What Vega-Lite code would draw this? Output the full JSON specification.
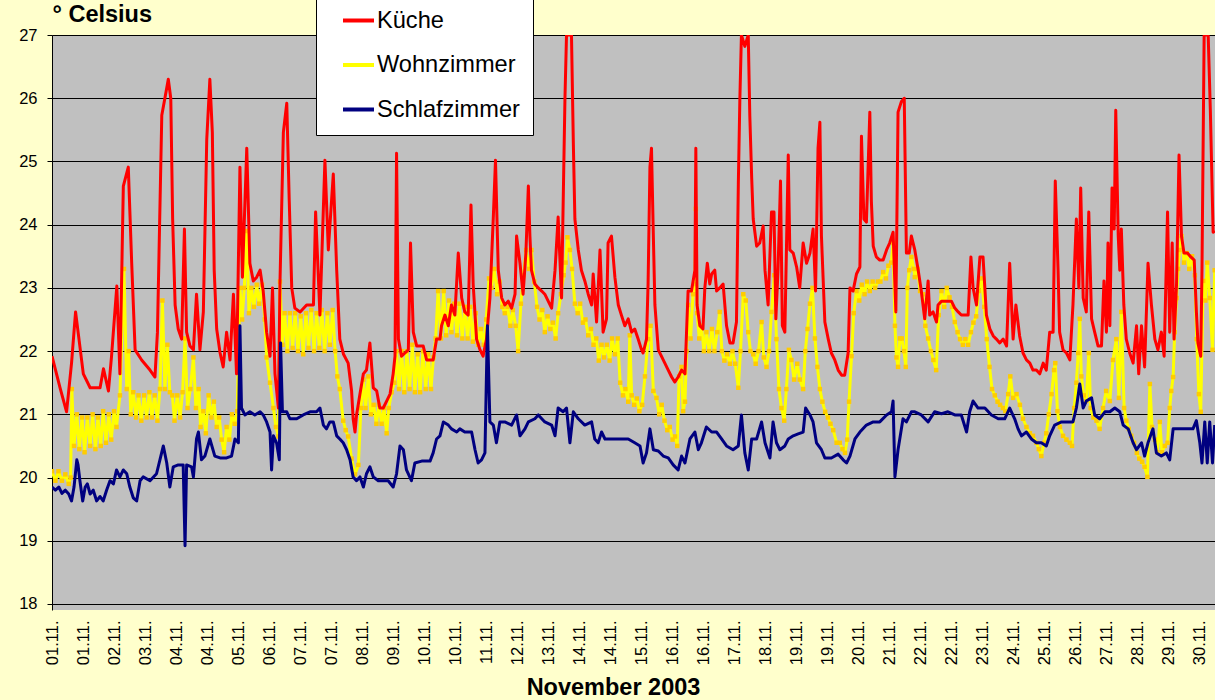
{
"$schema": "https://vega.github.io/schema/vega-lite/v6.json",
"width": 1163,
"height": 575,
"autosize": "none",
"padding": {"left": 52, "top": 35, "right": 0, "bottom": 90},
"background": "#FFFFCC",
"config": {"view": {"fill": "#C0C0C0", "stroke": null}, "font": "Liberation Sans"},
"datasets": {
"kueche": [
{"pos":0,"temp":21.92},{"pos":0.26,"temp":21.42},{"pos":0.47,"temp":21.04},{"pos":0.63,"temp":21.81},{"pos":0.76,"temp":22.62},{"pos":0.87,"temp":22.19},{"pos":1.01,"temp":21.64},{"pos":1.23,"temp":21.42},{"pos":1.55,"temp":21.42},{"pos":1.66,"temp":21.72},{"pos":1.82,"temp":21.37},{"pos":1.92,"temp":21.92},{"pos":2.09,"temp":23.03},{"pos":2.19,"temp":21.64},{"pos":2.30,"temp":24.61},{"pos":2.46,"temp":24.91},{"pos":2.57,"temp":23.39},{"pos":2.68,"temp":22.02},{"pos":2.89,"temp":21.86},{"pos":3.16,"temp":21.70},{"pos":3.32,"temp":21.59},{"pos":3.40,"temp":22.30},{"pos":3.54,"temp":25.73},{"pos":3.64,"temp":26.0},{"pos":3.75,"temp":26.30},{"pos":3.83,"temp":26.0},{"pos":3.89,"temp":24.09},{"pos":3.97,"temp":22.73},{"pos":4.07,"temp":22.35},{"pos":4.18,"temp":22.19},{"pos":4.27,"temp":23.93},{"pos":4.34,"temp":22.30},{"pos":4.45,"temp":22.08},{"pos":4.56,"temp":22.02},{"pos":4.66,"temp":22.90},{"pos":4.77,"temp":22.02},{"pos":4.88,"temp":22.62},{"pos":4.99,"temp":25.35},{"pos":5.09,"temp":26.30},{"pos":5.17,"temp":25.46},{"pos":5.23,"temp":23.28},{"pos":5.31,"temp":22.35},{"pos":5.42,"temp":21.97},{"pos":5.52,"temp":21.75},{"pos":5.63,"temp":22.30},{"pos":5.74,"temp":21.86},{"pos":5.85,"temp":22.90},{"pos":5.95,"temp":21.64},{"pos":6.06,"temp":24.91},{"pos":6.14,"temp":23.17},{"pos":6.28,"temp":25.21},{"pos":6.38,"temp":23.39},{"pos":6.49,"temp":23.11},{"pos":6.60,"temp":23.17},{"pos":6.71,"temp":23.28},{"pos":6.81,"temp":22.95},{"pos":6.92,"temp":22.30},{"pos":7.03,"temp":21.92},{"pos":7.11,"temp":23.0},{"pos":7.19,"temp":21.64},{"pos":7.30,"temp":21.10},{"pos":7.35,"temp":23.06},{"pos":7.46,"temp":25.46},{"pos":7.57,"temp":25.92},{"pos":7.65,"temp":24.37},{"pos":7.73,"temp":23.0},{"pos":7.83,"temp":22.68},{"pos":8.00,"temp":22.62},{"pos":8.21,"temp":22.73},{"pos":8.43,"temp":22.73},{"pos":8.50,"temp":24.20},{"pos":8.64,"temp":22.57},{"pos":8.80,"temp":25.02},{"pos":8.91,"temp":23.60},{"pos":9.07,"temp":24.80},{"pos":9.18,"temp":23.28},{"pos":9.28,"temp":22.19},{"pos":9.40,"temp":21.95},{"pos":9.55,"temp":21.81},{"pos":9.66,"temp":21.37},{"pos":9.71,"temp":20.93},{"pos":9.77,"temp":20.72},{"pos":9.82,"temp":20.99},{"pos":9.93,"temp":21.32},{"pos":10.04,"temp":21.64},{"pos":10.14,"temp":21.70},{"pos":10.25,"temp":22.13},{"pos":10.36,"temp":21.42},{"pos":10.47,"temp":21.37},{"pos":10.57,"temp":21.10},{"pos":10.68,"temp":21.10},{"pos":10.79,"temp":21.21},{"pos":10.90,"temp":21.32},{"pos":11.00,"temp":21.64},{"pos":11.06,"temp":21.92},{"pos":11.11,"temp":25.13},{"pos":11.17,"temp":22.19},{"pos":11.27,"temp":21.92},{"pos":11.38,"temp":21.97},{"pos":11.49,"temp":22.02},{"pos":11.56,"temp":23.71},{"pos":11.65,"temp":22.30},{"pos":11.76,"temp":22.08},{"pos":11.86,"temp":22.08},{"pos":11.97,"temp":22.08},{"pos":12.08,"temp":21.86},{"pos":12.19,"temp":21.86},{"pos":12.29,"temp":21.86},{"pos":12.40,"temp":22.19},{"pos":12.51,"temp":22.19},{"pos":12.56,"temp":22.40},{"pos":12.67,"temp":22.57},{"pos":12.78,"temp":22.40},{"pos":12.88,"temp":22.73},{"pos":12.99,"temp":22.57},{"pos":13.10,"temp":23.55},{"pos":13.21,"temp":22.84},{"pos":13.31,"temp":22.62},{"pos":13.42,"temp":22.57},{"pos":13.51,"temp":24.31},{"pos":13.58,"temp":23.06},{"pos":13.69,"temp":22.19},{"pos":13.80,"temp":22.02},{"pos":13.90,"temp":21.92},{"pos":14.01,"temp":22.19},{"pos":14.12,"temp":22.84},{"pos":14.23,"temp":24.12},{"pos":14.30,"temp":25.02},{"pos":14.39,"temp":23.28},{"pos":14.50,"temp":22.84},{"pos":14.60,"temp":22.73},{"pos":14.71,"temp":22.79},{"pos":14.82,"temp":22.68},{"pos":14.93,"temp":22.90},{"pos":14.98,"temp":23.82},{"pos":15.09,"temp":23.39},{"pos":15.19,"temp":22.90},{"pos":15.28,"temp":23.55},{"pos":15.36,"temp":24.61},{"pos":15.41,"temp":23.82},{"pos":15.46,"temp":23.28},{"pos":15.57,"temp":23.06},{"pos":15.68,"temp":23.00},{"pos":15.79,"temp":22.95},{"pos":15.89,"temp":22.90},{"pos":16.00,"temp":22.79},{"pos":16.11,"temp":22.68},{"pos":16.22,"temp":23.28},{"pos":16.32,"temp":24.12},{"pos":16.43,"temp":22.84},{"pos":16.54,"temp":26.0},{"pos":16.59,"temp":27.0},{"pos":16.67,"temp":27.0},{"pos":16.75,"temp":27.0},{"pos":16.81,"temp":25.29},{"pos":16.86,"temp":24.09},{"pos":16.97,"temp":23.60},{"pos":17.07,"temp":23.28},{"pos":17.18,"temp":23.11},{"pos":17.29,"temp":22.90},{"pos":17.40,"temp":22.73},{"pos":17.45,"temp":23.22},{"pos":17.56,"temp":22.46},{"pos":17.67,"temp":23.60},{"pos":17.77,"temp":22.30},{"pos":17.88,"temp":22.51},{"pos":17.93,"temp":23.71},{"pos":18.04,"temp":23.82},{"pos":18.15,"temp":23.17},{"pos":18.26,"temp":22.73},{"pos":18.36,"temp":22.57},{"pos":18.47,"temp":22.40},{"pos":18.58,"temp":22.51},{"pos":18.69,"temp":22.30},{"pos":18.79,"temp":22.35},{"pos":18.90,"temp":22.19},{"pos":19.01,"temp":22.02},{"pos":19.06,"temp":21.97},{"pos":19.17,"temp":22.19},{"pos":19.22,"temp":23.06},{"pos":19.28,"temp":24.91},{"pos":19.33,"temp":25.21},{"pos":19.39,"temp":23.82},{"pos":19.44,"temp":22.73},{"pos":19.55,"temp":22.02},{"pos":19.65,"temp":21.92},{"pos":19.76,"temp":21.81},{"pos":19.87,"temp":21.70},{"pos":19.98,"temp":21.59},{"pos":20.08,"temp":21.51},{"pos":20.19,"temp":21.59},{"pos":20.30,"temp":21.70},{"pos":20.41,"temp":21.64},{"pos":20.51,"temp":22.95},{"pos":20.62,"temp":22.95},{"pos":20.73,"temp":23.28},{"pos":20.76,"temp":25.21},{"pos":20.80,"temp":22.73},{"pos":20.89,"temp":22.40},{"pos":20.99,"temp":22.35},{"pos":21.05,"temp":23.00},{"pos":21.13,"temp":23.39},{"pos":21.21,"temp":23.06},{"pos":21.27,"temp":23.22},{"pos":21.37,"temp":23.28},{"pos":21.43,"temp":22.95},{"pos":21.53,"temp":23.00},{"pos":21.64,"temp":23.06},{"pos":21.75,"temp":22.40},{"pos":21.86,"temp":22.13},{"pos":21.96,"temp":22.13},{"pos":22.07,"temp":22.46},{"pos":22.13,"temp":24.64},{"pos":22.18,"temp":26.0},{"pos":22.23,"temp":27.0},{"pos":22.34,"temp":26.82},{"pos":22.45,"temp":27.0},{"pos":22.50,"temp":25.73},{"pos":22.56,"temp":24.75},{"pos":22.61,"temp":24.09},{"pos":22.72,"temp":23.66},{"pos":22.82,"temp":23.71},{"pos":22.93,"temp":23.98},{"pos":22.99,"temp":23.28},{"pos":23.09,"temp":22.73},{"pos":23.20,"temp":24.20},{"pos":23.28,"temp":24.20},{"pos":23.34,"temp":22.51},{"pos":23.41,"temp":23.28},{"pos":23.49,"temp":24.69},{"pos":23.55,"temp":22.40},{"pos":23.63,"temp":22.30},{"pos":23.74,"temp":25.10},{"pos":23.79,"temp":23.60},{"pos":23.90,"temp":23.55},{"pos":24.01,"temp":23.33},{"pos":24.11,"temp":23.00},{"pos":24.22,"temp":23.71},{"pos":24.33,"temp":23.39},{"pos":24.44,"temp":23.55},{"pos":24.54,"temp":23.93},{"pos":24.62,"temp":22.95},{"pos":24.70,"temp":25.21},{"pos":24.76,"temp":25.62},{"pos":24.81,"temp":23.82},{"pos":24.92,"temp":22.46},{"pos":25.03,"temp":22.19},{"pos":25.13,"temp":21.97},{"pos":25.24,"temp":21.86},{"pos":25.35,"temp":21.70},{"pos":25.46,"temp":21.62},{"pos":25.56,"temp":21.62},{"pos":25.67,"temp":21.97},{"pos":25.73,"temp":23.00},{"pos":25.83,"temp":22.95},{"pos":25.94,"temp":23.22},{"pos":26.05,"temp":23.33},{"pos":26.10,"temp":25.40},{"pos":26.18,"temp":24.09},{"pos":26.26,"temp":24.04},{"pos":26.37,"temp":25.78},{"pos":26.42,"temp":24.37},{"pos":26.48,"temp":23.66},{"pos":26.58,"temp":23.49},{"pos":26.69,"temp":23.44},{"pos":26.80,"temp":23.44},{"pos":26.91,"temp":23.60},{"pos":27.01,"temp":23.71},{"pos":27.12,"temp":23.88},{"pos":27.21,"temp":22.62},{"pos":27.28,"temp":25.78},{"pos":27.39,"temp":25.95},{"pos":27.48,"temp":26.0},{"pos":27.55,"temp":23.55},{"pos":27.64,"temp":23.55},{"pos":27.71,"temp":23.82},{"pos":27.82,"temp":23.60},{"pos":27.93,"temp":23.28},{"pos":28.03,"temp":22.95},{"pos":28.14,"temp":22.51},{"pos":28.25,"temp":23.11},{"pos":28.30,"temp":22.57},{"pos":28.41,"temp":22.62},{"pos":28.52,"temp":22.46},{"pos":28.57,"temp":22.73},{"pos":28.68,"temp":22.79},{"pos":28.79,"temp":22.79},{"pos":28.89,"temp":22.79},{"pos":29.00,"temp":22.79},{"pos":29.11,"temp":22.68},{"pos":29.22,"temp":22.62},{"pos":29.32,"temp":22.57},{"pos":29.43,"temp":22.57},{"pos":29.54,"temp":22.57},{"pos":29.63,"temp":23.49},{"pos":29.70,"temp":23.00},{"pos":29.81,"temp":22.73},{"pos":29.92,"temp":23.49},{"pos":30.02,"temp":23.49},{"pos":30.13,"temp":22.57},{"pos":30.24,"temp":22.35},{"pos":30.35,"temp":22.24},{"pos":30.45,"temp":22.19},{"pos":30.56,"temp":22.13},{"pos":30.67,"temp":22.19},{"pos":30.78,"temp":22.08},{"pos":30.88,"temp":23.39},{"pos":30.99,"temp":22.19},{"pos":31.08,"temp":22.73},{"pos":31.20,"temp":22.24},{"pos":31.31,"temp":21.97},{"pos":31.42,"temp":21.86},{"pos":31.53,"temp":21.81},{"pos":31.63,"temp":21.70},{"pos":31.74,"temp":21.70},{"pos":31.85,"temp":21.64},{"pos":31.96,"temp":21.81},{"pos":32.06,"temp":21.70},{"pos":32.17,"temp":22.30},{"pos":32.28,"temp":22.30},{"pos":32.35,"temp":24.69},{"pos":32.44,"temp":23.28},{"pos":32.49,"temp":22.30},{"pos":32.60,"temp":22.02},{"pos":32.71,"temp":21.97},{"pos":32.82,"temp":21.86},{"pos":32.92,"temp":22.73},{"pos":33.03,"temp":24.09},{"pos":33.11,"temp":23.00},{"pos":33.17,"temp":24.58},{"pos":33.25,"temp":22.84},{"pos":33.35,"temp":22.62},{"pos":33.43,"temp":24.20},{"pos":33.52,"temp":22.51},{"pos":33.62,"temp":22.30},{"pos":33.73,"temp":22.08},{"pos":33.84,"temp":22.08},{"pos":33.92,"temp":23.11},{"pos":34.00,"temp":22.30},{"pos":34.05,"temp":23.71},{"pos":34.11,"temp":22.40},{"pos":34.18,"temp":24.58},{"pos":34.25,"temp":23.93},{"pos":34.30,"temp":25.81},{"pos":34.38,"temp":23.82},{"pos":34.43,"temp":23.28},{"pos":34.48,"temp":23.93},{"pos":34.56,"temp":22.73},{"pos":34.64,"temp":22.19},{"pos":34.75,"temp":21.97},{"pos":34.86,"temp":21.81},{"pos":34.97,"temp":22.40},{"pos":35.04,"temp":21.64},{"pos":35.13,"temp":22.40},{"pos":35.23,"temp":21.75},{"pos":35.34,"temp":23.39},{"pos":35.45,"temp":22.73},{"pos":35.56,"temp":22.19},{"pos":35.66,"temp":22.02},{"pos":35.77,"temp":22.30},{"pos":35.86,"temp":21.92},{"pos":35.97,"temp":24.20},{"pos":36.04,"temp":22.30},{"pos":36.12,"temp":23.71},{"pos":36.18,"temp":22.19},{"pos":36.26,"temp":23.06},{"pos":36.34,"temp":25.10},{"pos":36.42,"temp":23.82},{"pos":36.50,"temp":23.55},{"pos":36.61,"temp":23.55},{"pos":36.72,"temp":23.49},{"pos":36.83,"temp":23.44},{"pos":36.90,"temp":22.62},{"pos":36.95,"temp":22.13},{"pos":37.04,"temp":21.92},{"pos":37.08,"temp":23.28},{"pos":37.15,"temp":27.0},{"pos":37.28,"temp":27.0},{"pos":37.35,"temp":25.81},{"pos":37.44,"temp":23.88},{"pos":37.5,"temp":23.9}
],
"wohn": [
{"pos":0,"temp":20.10},{"pos":0.11,"temp":19.95},{"pos":0.21,"temp":20.10},{"pos":0.32,"temp":19.95},{"pos":0.43,"temp":20.05},{"pos":0.54,"temp":19.90},{"pos":0.60,"temp":20.0},{"pos":0.64,"temp":21.40},{"pos":0.71,"temp":20.50},{"pos":0.80,"temp":21.00},{"pos":0.88,"temp":20.45},{"pos":0.97,"temp":20.95},{"pos":1.05,"temp":20.40},{"pos":1.14,"temp":20.95},{"pos":1.23,"temp":20.50},{"pos":1.31,"temp":21.00},{"pos":1.40,"temp":20.45},{"pos":1.48,"temp":20.95},{"pos":1.57,"temp":20.50},{"pos":1.65,"temp":21.05},{"pos":1.74,"temp":20.55},{"pos":1.83,"temp":21.00},{"pos":1.91,"temp":20.60},{"pos":2.00,"temp":21.05},{"pos":2.08,"temp":20.80},{"pos":2.19,"temp":21.30},{"pos":2.32,"temp":23.30},{"pos":2.41,"temp":21.40},{"pos":2.47,"temp":22.00},{"pos":2.54,"temp":21.00},{"pos":2.62,"temp":21.35},{"pos":2.71,"temp":20.95},{"pos":2.79,"temp":21.30},{"pos":2.88,"temp":20.90},{"pos":2.97,"temp":21.30},{"pos":3.05,"temp":20.95},{"pos":3.14,"temp":21.35},{"pos":3.22,"temp":20.95},{"pos":3.31,"temp":21.30},{"pos":3.40,"temp":20.90},{"pos":3.48,"temp":21.40},{"pos":3.56,"temp":22.80},{"pos":3.64,"temp":21.40},{"pos":3.72,"temp":22.10},{"pos":3.80,"temp":21.35},{"pos":3.88,"temp":21.30},{"pos":3.95,"temp":20.90},{"pos":4.04,"temp":21.30},{"pos":4.13,"temp":20.95},{"pos":4.21,"temp":21.35},{"pos":4.29,"temp":22.20},{"pos":4.37,"temp":21.10},{"pos":4.46,"temp":21.40},{"pos":4.56,"temp":21.90},{"pos":4.64,"temp":21.10},{"pos":4.73,"temp":21.40},{"pos":4.79,"temp":20.80},{"pos":4.88,"temp":21.05},{"pos":4.96,"temp":20.70},{"pos":5.05,"temp":21.30},{"pos":5.14,"temp":20.95},{"pos":5.22,"temp":21.20},{"pos":5.31,"temp":20.80},{"pos":5.39,"temp":20.95},{"pos":5.47,"temp":20.60},{"pos":5.55,"temp":20.40},{"pos":5.63,"temp":20.80},{"pos":5.72,"temp":20.60},{"pos":5.80,"temp":21.00},{"pos":5.89,"temp":20.85},{"pos":5.97,"temp":21.05},{"pos":6.06,"temp":23.00},{"pos":6.13,"temp":22.50},{"pos":6.20,"temp":23.00},{"pos":6.28,"temp":23.90},{"pos":6.35,"temp":22.60},{"pos":6.43,"temp":23.00},{"pos":6.51,"temp":22.70},{"pos":6.60,"temp":23.05},{"pos":6.68,"temp":22.75},{"pos":6.77,"temp":23.05},{"pos":6.86,"temp":22.50},{"pos":6.92,"temp":21.90},{"pos":7.03,"temp":21.50},{"pos":7.14,"temp":21.10},{"pos":7.22,"temp":20.80},{"pos":7.30,"temp":20.65},{"pos":7.35,"temp":23.10},{"pos":7.43,"temp":22.10},{"pos":7.50,"temp":22.60},{"pos":7.59,"temp":22.00},{"pos":7.67,"temp":22.60},{"pos":7.76,"temp":22.05},{"pos":7.84,"temp":22.60},{"pos":7.93,"temp":22.00},{"pos":8.02,"temp":22.55},{"pos":8.10,"temp":21.95},{"pos":8.19,"temp":22.60},{"pos":8.27,"temp":22.05},{"pos":8.36,"temp":22.65},{"pos":8.45,"temp":22.00},{"pos":8.53,"temp":22.60},{"pos":8.62,"temp":22.05},{"pos":8.70,"temp":22.65},{"pos":8.79,"temp":22.00},{"pos":8.88,"temp":22.60},{"pos":8.96,"temp":22.10},{"pos":9.05,"temp":22.65},{"pos":9.13,"temp":22.00},{"pos":9.20,"temp":21.60},{"pos":9.28,"temp":21.40},{"pos":9.39,"temp":20.90},{"pos":9.47,"temp":20.75},{"pos":9.55,"temp":20.65},{"pos":9.66,"temp":20.30},{"pos":9.77,"temp":20.05},{"pos":9.88,"temp":20.20},{"pos":9.96,"temp":21.10},{"pos":10.04,"temp":21.55},{"pos":10.11,"temp":21.10},{"pos":10.20,"temp":21.60},{"pos":10.28,"temp":21.00},{"pos":10.37,"temp":21.15},{"pos":10.46,"temp":20.85},{"pos":10.54,"temp":21.15},{"pos":10.63,"temp":20.85},{"pos":10.71,"temp":21.10},{"pos":10.79,"temp":20.70},{"pos":10.86,"temp":21.10},{"pos":10.95,"temp":21.35},{"pos":11.04,"temp":21.50},{"pos":11.11,"temp":22.00},{"pos":11.19,"temp":21.40},{"pos":11.27,"temp":22.00},{"pos":11.36,"temp":21.35},{"pos":11.44,"temp":22.00},{"pos":11.53,"temp":21.40},{"pos":11.62,"temp":22.10},{"pos":11.70,"temp":21.35},{"pos":11.79,"temp":21.95},{"pos":11.87,"temp":21.35},{"pos":11.96,"temp":22.00},{"pos":12.05,"temp":21.40},{"pos":12.13,"temp":21.95},{"pos":12.22,"temp":21.40},{"pos":12.30,"temp":21.90},{"pos":12.37,"temp":22.20},{"pos":12.45,"temp":22.95},{"pos":12.54,"temp":22.20},{"pos":12.63,"temp":22.95},{"pos":12.71,"temp":22.25},{"pos":12.80,"temp":22.80},{"pos":12.88,"temp":22.30},{"pos":12.97,"temp":22.75},{"pos":13.06,"temp":22.25},{"pos":13.14,"temp":22.75},{"pos":13.23,"temp":22.20},{"pos":13.31,"temp":22.70},{"pos":13.40,"temp":22.20},{"pos":13.49,"temp":22.70},{"pos":13.57,"temp":22.15},{"pos":13.66,"temp":22.60},{"pos":13.74,"temp":22.10},{"pos":13.83,"temp":22.35},{"pos":13.92,"temp":22.10},{"pos":14.00,"temp":22.50},{"pos":14.09,"temp":23.15},{"pos":14.17,"temp":23.00},{"pos":14.26,"temp":23.30},{"pos":14.35,"temp":22.90},{"pos":14.43,"temp":23.10},{"pos":14.52,"temp":22.70},{"pos":14.60,"temp":22.60},{"pos":14.69,"temp":22.70},{"pos":14.78,"temp":22.40},{"pos":14.86,"temp":22.65},{"pos":14.95,"temp":22.40},{"pos":15.03,"temp":22.00},{"pos":15.12,"temp":22.75},{"pos":15.20,"temp":23.20},{"pos":15.29,"temp":23.60},{"pos":15.38,"temp":23.30},{"pos":15.46,"temp":23.60},{"pos":15.55,"temp":23.10},{"pos":15.64,"temp":22.70},{"pos":15.72,"temp":22.50},{"pos":15.81,"temp":22.65},{"pos":15.89,"temp":22.30},{"pos":15.98,"temp":22.55},{"pos":16.07,"temp":22.35},{"pos":16.15,"temp":22.45},{"pos":16.24,"temp":22.20},{"pos":16.32,"temp":22.60},{"pos":16.41,"temp":22.90},{"pos":16.50,"temp":23.20},{"pos":16.56,"temp":23.40},{"pos":16.62,"temp":23.80},{"pos":16.70,"temp":23.60},{"pos":16.77,"temp":23.30},{"pos":16.86,"temp":22.75},{"pos":16.95,"temp":22.60},{"pos":17.03,"temp":22.75},{"pos":17.12,"temp":22.45},{"pos":17.20,"temp":22.50},{"pos":17.29,"temp":22.25},{"pos":17.38,"temp":22.35},{"pos":17.46,"temp":22.10},{"pos":17.55,"temp":22.20},{"pos":17.63,"temp":21.85},{"pos":17.72,"temp":22.10},{"pos":17.80,"temp":21.90},{"pos":17.89,"temp":22.10},{"pos":17.98,"temp":21.85},{"pos":18.06,"temp":22.20},{"pos":18.15,"temp":21.95},{"pos":18.24,"temp":22.20},{"pos":18.32,"temp":21.50},{"pos":18.41,"temp":21.30},{"pos":18.49,"temp":21.40},{"pos":18.58,"temp":21.20},{"pos":18.63,"temp":22.25},{"pos":18.69,"temp":21.30},{"pos":18.77,"temp":21.15},{"pos":18.86,"temp":21.25},{"pos":18.94,"temp":21.05},{"pos":19.03,"temp":21.15},{"pos":19.12,"temp":21.60},{"pos":19.22,"temp":22.19},{"pos":19.30,"temp":22.40},{"pos":19.39,"temp":21.37},{"pos":19.49,"temp":21.26},{"pos":19.58,"temp":21.00},{"pos":19.66,"temp":21.15},{"pos":19.75,"temp":20.90},{"pos":19.84,"temp":20.75},{"pos":19.92,"temp":20.80},{"pos":20.01,"temp":20.60},{"pos":20.09,"temp":20.65},{"pos":20.16,"temp":20.50},{"pos":20.22,"temp":21.60},{"pos":20.30,"temp":21.75},{"pos":20.35,"temp":21.05},{"pos":20.41,"temp":21.20},{"pos":20.46,"temp":22.00},{"pos":20.51,"temp":22.73},{"pos":20.59,"temp":22.20},{"pos":20.67,"temp":22.90},{"pos":20.73,"temp":23.06},{"pos":20.76,"temp":24.25},{"pos":20.80,"temp":22.60},{"pos":20.87,"temp":22.20},{"pos":20.94,"temp":22.40},{"pos":21.02,"temp":22.00},{"pos":21.10,"temp":22.30},{"pos":21.19,"temp":22.00},{"pos":21.28,"temp":22.35},{"pos":21.36,"temp":22.00},{"pos":21.45,"temp":22.30},{"pos":21.53,"temp":22.62},{"pos":21.60,"temp":22.00},{"pos":21.68,"temp":21.85},{"pos":21.77,"temp":21.95},{"pos":21.86,"temp":21.80},{"pos":21.94,"temp":22.00},{"pos":22.03,"temp":21.80},{"pos":22.13,"temp":21.42},{"pos":22.20,"temp":22.00},{"pos":22.29,"temp":22.90},{"pos":22.37,"temp":22.80},{"pos":22.45,"temp":22.30},{"pos":22.52,"temp":22.00},{"pos":22.61,"temp":21.95},{"pos":22.69,"temp":21.80},{"pos":22.78,"temp":22.00},{"pos":22.88,"temp":22.46},{"pos":22.95,"temp":21.90},{"pos":23.04,"temp":21.75},{"pos":23.12,"temp":22.00},{"pos":23.20,"temp":22.62},{"pos":23.29,"temp":23.20},{"pos":23.36,"temp":22.19},{"pos":23.44,"temp":21.40},{"pos":23.52,"temp":21.10},{"pos":23.61,"temp":20.90},{"pos":23.68,"temp":21.40},{"pos":23.76,"temp":22.02},{"pos":23.84,"temp":21.86},{"pos":23.93,"temp":21.55},{"pos":24.03,"temp":21.80},{"pos":24.11,"temp":21.55},{"pos":24.22,"temp":21.40},{"pos":24.29,"temp":22.00},{"pos":24.36,"temp":22.35},{"pos":24.44,"temp":22.75},{"pos":24.52,"temp":23.00},{"pos":24.60,"temp":22.20},{"pos":24.68,"temp":21.75},{"pos":24.76,"temp":21.40},{"pos":24.84,"temp":21.20},{"pos":24.93,"temp":21.04},{"pos":25.02,"temp":20.95},{"pos":25.10,"temp":20.85},{"pos":25.19,"temp":20.75},{"pos":25.30,"temp":20.55},{"pos":25.40,"temp":20.55},{"pos":25.49,"temp":20.45},{"pos":25.57,"temp":20.39},{"pos":25.64,"temp":20.60},{"pos":25.70,"temp":21.20},{"pos":25.78,"temp":21.92},{"pos":25.85,"temp":22.60},{"pos":25.94,"temp":22.95},{"pos":26.03,"temp":22.80},{"pos":26.11,"temp":23.05},{"pos":26.20,"temp":22.90},{"pos":26.28,"temp":23.10},{"pos":26.37,"temp":22.95},{"pos":26.46,"temp":23.10},{"pos":26.54,"temp":23.00},{"pos":26.63,"temp":23.10},{"pos":26.71,"temp":23.10},{"pos":26.80,"temp":23.25},{"pos":26.89,"temp":23.15},{"pos":26.97,"temp":23.35},{"pos":27.06,"temp":23.40},{"pos":27.12,"temp":23.71},{"pos":27.18,"temp":22.40},{"pos":27.23,"temp":21.90},{"pos":27.28,"temp":21.75},{"pos":27.34,"temp":22.20},{"pos":27.40,"temp":22.20},{"pos":27.47,"temp":22.00},{"pos":27.53,"temp":21.75},{"pos":27.58,"temp":23.00},{"pos":27.64,"temp":23.28},{"pos":27.71,"temp":23.49},{"pos":27.79,"temp":23.30},{"pos":27.82,"temp":23.17},{"pos":27.91,"temp":23.30},{"pos":27.99,"temp":22.95},{"pos":28.08,"temp":22.90},{"pos":28.16,"temp":22.40},{"pos":28.25,"temp":22.20},{"pos":28.34,"temp":22.00},{"pos":28.42,"temp":21.86},{"pos":28.51,"temp":21.70},{"pos":28.59,"temp":22.57},{"pos":28.68,"temp":22.95},{"pos":28.77,"temp":22.70},{"pos":28.85,"temp":23.00},{"pos":28.94,"temp":22.85},{"pos":29.02,"temp":22.70},{"pos":29.11,"temp":22.46},{"pos":29.20,"temp":22.30},{"pos":29.28,"temp":22.19},{"pos":29.37,"temp":22.10},{"pos":29.45,"temp":22.19},{"pos":29.54,"temp":22.10},{"pos":29.63,"temp":22.30},{"pos":29.71,"temp":22.45},{"pos":29.80,"temp":22.55},{"pos":29.88,"temp":22.95},{"pos":29.97,"temp":23.15},{"pos":30.06,"temp":22.70},{"pos":30.14,"temp":22.19},{"pos":30.23,"temp":21.75},{"pos":30.31,"temp":21.40},{"pos":30.40,"temp":21.30},{"pos":30.49,"temp":21.20},{"pos":30.57,"temp":21.15},{"pos":30.66,"temp":21.10},{"pos":30.74,"temp":21.05},{"pos":30.83,"temp":21.32},{"pos":30.90,"temp":21.60},{"pos":30.99,"temp":21.26},{"pos":31.10,"temp":21.32},{"pos":31.21,"temp":21.15},{"pos":31.31,"temp":20.93},{"pos":31.42,"temp":20.80},{"pos":31.53,"temp":20.70},{"pos":31.63,"temp":20.66},{"pos":31.74,"temp":20.55},{"pos":31.82,"temp":20.45},{"pos":31.90,"temp":20.34},{"pos":31.99,"temp":20.55},{"pos":32.06,"temp":20.70},{"pos":32.14,"temp":21.00},{"pos":32.23,"temp":21.32},{"pos":32.31,"temp":21.70},{"pos":32.35,"temp":21.81},{"pos":32.42,"temp":21.05},{"pos":32.50,"temp":20.80},{"pos":32.60,"temp":20.66},{"pos":32.71,"temp":20.60},{"pos":32.82,"temp":20.55},{"pos":32.89,"temp":20.50},{"pos":32.96,"temp":21.10},{"pos":33.03,"temp":21.50},{"pos":33.09,"temp":21.97},{"pos":33.14,"temp":22.51},{"pos":33.19,"temp":21.60},{"pos":33.27,"temp":21.30},{"pos":33.35,"temp":21.21},{"pos":33.43,"temp":21.97},{"pos":33.49,"temp":21.10},{"pos":33.58,"temp":20.95},{"pos":33.68,"temp":20.90},{"pos":33.78,"temp":20.77},{"pos":33.89,"temp":21.10},{"pos":33.99,"temp":21.37},{"pos":34.11,"temp":21.21},{"pos":34.21,"temp":21.86},{"pos":34.32,"temp":22.19},{"pos":34.40,"temp":21.26},{"pos":34.48,"temp":22.62},{"pos":34.57,"temp":21.10},{"pos":34.64,"temp":20.90},{"pos":34.72,"temp":20.77},{"pos":34.80,"temp":20.66},{"pos":34.89,"temp":20.55},{"pos":34.98,"temp":20.39},{"pos":35.06,"temp":20.30},{"pos":35.15,"temp":20.25},{"pos":35.23,"temp":20.17},{"pos":35.32,"temp":20.01},{"pos":35.40,"temp":21.48},{"pos":35.47,"temp":20.80},{"pos":35.56,"temp":20.60},{"pos":35.64,"temp":20.40},{"pos":35.72,"temp":20.88},{"pos":35.79,"temp":20.40},{"pos":35.88,"temp":20.50},{"pos":35.97,"temp":20.55},{"pos":36.04,"temp":21.10},{"pos":36.09,"temp":21.37},{"pos":36.15,"temp":21.59},{"pos":36.20,"temp":22.30},{"pos":36.26,"temp":22.84},{"pos":36.31,"temp":23.30},{"pos":36.36,"temp":23.60},{"pos":36.42,"temp":23.82},{"pos":36.50,"temp":23.40},{"pos":36.59,"temp":23.55},{"pos":36.67,"temp":23.30},{"pos":36.76,"temp":23.50},{"pos":36.85,"temp":23.20},{"pos":36.91,"temp":22.19},{"pos":36.98,"temp":21.32},{"pos":37.04,"temp":21.04},{"pos":37.12,"temp":23.11},{"pos":37.19,"temp":22.80},{"pos":37.25,"temp":23.40},{"pos":37.33,"temp":22.84},{"pos":37.42,"temp":22.02},{"pos":37.49,"temp":23.28}
],
"schlaf": [
{"pos":0,"temp":19.85},{"pos":0.11,"temp":19.80},{"pos":0.22,"temp":19.85},{"pos":0.32,"temp":19.75},{"pos":0.43,"temp":19.80},{"pos":0.54,"temp":19.74},{"pos":0.63,"temp":19.63},{"pos":0.71,"temp":19.85},{"pos":0.80,"temp":20.28},{"pos":0.84,"temp":20.20},{"pos":0.90,"temp":19.95},{"pos":0.99,"temp":19.63},{"pos":1.07,"temp":19.85},{"pos":1.14,"temp":19.90},{"pos":1.23,"temp":19.74},{"pos":1.33,"temp":19.80},{"pos":1.44,"temp":19.63},{"pos":1.55,"temp":19.70},{"pos":1.65,"temp":19.63},{"pos":1.76,"temp":19.80},{"pos":1.87,"temp":19.95},{"pos":1.98,"temp":19.90},{"pos":2.08,"temp":20.12},{"pos":2.19,"temp":20.01},{"pos":2.30,"temp":20.12},{"pos":2.41,"temp":20.06},{"pos":2.51,"temp":19.85},{"pos":2.62,"temp":19.68},{"pos":2.73,"temp":19.63},{"pos":2.84,"temp":19.95},{"pos":2.94,"temp":20.01},{"pos":3.16,"temp":19.95},{"pos":3.37,"temp":20.06},{"pos":3.48,"temp":20.28},{"pos":3.59,"temp":20.50},{"pos":3.70,"temp":20.23},{"pos":3.80,"temp":19.85},{"pos":3.91,"temp":20.17},{"pos":4.07,"temp":20.20},{"pos":4.23,"temp":20.20},{"pos":4.29,"temp":18.92},{"pos":4.34,"temp":20.20},{"pos":4.50,"temp":20.17},{"pos":4.56,"temp":20.01},{"pos":4.66,"temp":20.61},{"pos":4.72,"temp":20.72},{"pos":4.82,"temp":20.28},{"pos":4.93,"temp":20.34},{"pos":5.09,"temp":20.61},{"pos":5.25,"temp":20.34},{"pos":5.42,"temp":20.31},{"pos":5.63,"temp":20.31},{"pos":5.79,"temp":20.34},{"pos":5.90,"temp":20.61},{"pos":6.01,"temp":20.55},{"pos":6.06,"temp":22.40},{"pos":6.11,"temp":21.10},{"pos":6.22,"temp":20.99},{"pos":6.38,"temp":21.04},{"pos":6.54,"temp":20.99},{"pos":6.71,"temp":21.04},{"pos":6.81,"temp":20.99},{"pos":6.92,"temp":20.88},{"pos":7.03,"temp":20.72},{"pos":7.08,"temp":20.12},{"pos":7.14,"temp":20.66},{"pos":7.24,"temp":20.55},{"pos":7.33,"temp":20.28},{"pos":7.37,"temp":22.13},{"pos":7.43,"temp":21.04},{"pos":7.57,"temp":21.04},{"pos":7.67,"temp":20.93},{"pos":7.89,"temp":20.93},{"pos":8.10,"temp":20.99},{"pos":8.32,"temp":21.04},{"pos":8.53,"temp":21.04},{"pos":8.64,"temp":21.10},{"pos":8.75,"temp":20.83},{"pos":8.85,"temp":20.77},{"pos":8.96,"temp":20.88},{"pos":9.07,"temp":20.88},{"pos":9.18,"temp":20.66},{"pos":9.28,"temp":20.61},{"pos":9.39,"temp":20.55},{"pos":9.50,"temp":20.44},{"pos":9.61,"temp":20.28},{"pos":9.71,"temp":20.01},{"pos":9.82,"temp":19.95},{"pos":9.93,"temp":20.01},{"pos":10.04,"temp":19.85},{"pos":10.14,"temp":20.06},{"pos":10.25,"temp":20.17},{"pos":10.36,"temp":20.01},{"pos":10.52,"temp":19.95},{"pos":10.84,"temp":19.95},{"pos":11.00,"temp":19.85},{"pos":11.11,"temp":20.06},{"pos":11.22,"temp":20.50},{"pos":11.33,"temp":20.44},{"pos":11.43,"temp":20.12},{"pos":11.59,"temp":19.95},{"pos":11.70,"temp":20.23},{"pos":11.92,"temp":20.26},{"pos":12.19,"temp":20.26},{"pos":12.29,"temp":20.39},{"pos":12.40,"temp":20.61},{"pos":12.51,"temp":20.66},{"pos":12.62,"temp":20.88},{"pos":12.78,"temp":20.83},{"pos":12.88,"temp":20.77},{"pos":13.05,"temp":20.72},{"pos":13.15,"temp":20.77},{"pos":13.31,"temp":20.72},{"pos":13.53,"temp":20.72},{"pos":13.64,"temp":20.44},{"pos":13.74,"temp":20.23},{"pos":13.85,"temp":20.28},{"pos":13.96,"temp":20.39},{"pos":14.04,"temp":22.40},{"pos":14.12,"temp":20.88},{"pos":14.23,"temp":20.83},{"pos":14.33,"temp":20.55},{"pos":14.44,"temp":20.88},{"pos":14.60,"temp":20.88},{"pos":14.82,"temp":20.83},{"pos":14.98,"temp":20.99},{"pos":15.09,"temp":20.66},{"pos":15.25,"temp":20.77},{"pos":15.36,"temp":20.88},{"pos":15.57,"temp":20.93},{"pos":15.68,"temp":20.99},{"pos":15.89,"temp":20.88},{"pos":16.11,"temp":20.83},{"pos":16.22,"temp":20.66},{"pos":16.32,"temp":21.10},{"pos":16.48,"temp":21.04},{"pos":16.59,"temp":21.10},{"pos":16.70,"temp":20.55},{"pos":16.81,"temp":21.04},{"pos":16.97,"temp":20.93},{"pos":17.18,"temp":20.83},{"pos":17.40,"temp":20.88},{"pos":17.50,"temp":20.61},{"pos":17.61,"temp":20.55},{"pos":17.72,"temp":20.72},{"pos":17.83,"temp":20.61},{"pos":18.04,"temp":20.61},{"pos":18.36,"temp":20.61},{"pos":18.58,"temp":20.61},{"pos":18.79,"temp":20.55},{"pos":18.96,"temp":20.50},{"pos":19.06,"temp":20.23},{"pos":19.17,"temp":20.39},{"pos":19.28,"temp":20.77},{"pos":19.39,"temp":20.44},{"pos":19.55,"temp":20.42},{"pos":19.71,"temp":20.34},{"pos":19.87,"temp":20.31},{"pos":20.03,"temp":20.20},{"pos":20.19,"temp":20.12},{"pos":20.30,"temp":20.34},{"pos":20.41,"temp":20.23},{"pos":20.57,"temp":20.61},{"pos":20.73,"temp":20.72},{"pos":20.84,"temp":20.44},{"pos":20.94,"temp":20.55},{"pos":21.10,"temp":20.80},{"pos":21.27,"temp":20.72},{"pos":21.43,"temp":20.72},{"pos":21.59,"temp":20.61},{"pos":21.75,"temp":20.50},{"pos":21.96,"temp":20.44},{"pos":22.13,"temp":20.50},{"pos":22.23,"temp":20.99},{"pos":22.34,"temp":20.39},{"pos":22.45,"temp":20.12},{"pos":22.56,"temp":20.61},{"pos":22.72,"temp":20.61},{"pos":22.88,"temp":20.88},{"pos":22.99,"temp":20.55},{"pos":23.15,"temp":20.31},{"pos":23.25,"temp":20.88},{"pos":23.36,"temp":20.55},{"pos":23.47,"temp":20.44},{"pos":23.63,"temp":20.50},{"pos":23.74,"temp":20.61},{"pos":23.90,"temp":20.66},{"pos":24.06,"temp":20.69},{"pos":24.22,"temp":20.72},{"pos":24.30,"temp":21.10},{"pos":24.44,"temp":20.99},{"pos":24.54,"temp":20.88},{"pos":24.65,"temp":20.55},{"pos":24.81,"temp":20.44},{"pos":24.92,"temp":20.31},{"pos":25.13,"temp":20.31},{"pos":25.35,"temp":20.37},{"pos":25.51,"temp":20.28},{"pos":25.62,"temp":20.23},{"pos":25.73,"temp":20.34},{"pos":25.89,"temp":20.61},{"pos":26.05,"temp":20.72},{"pos":26.26,"temp":20.83},{"pos":26.48,"temp":20.88},{"pos":26.69,"temp":20.88},{"pos":26.91,"temp":20.99},{"pos":27.07,"temp":21.04},{"pos":27.12,"temp":21.21},{"pos":27.18,"temp":20.01},{"pos":27.28,"temp":20.44},{"pos":27.44,"temp":20.93},{"pos":27.55,"temp":20.88},{"pos":27.71,"temp":21.04},{"pos":27.82,"temp":21.04},{"pos":28.03,"temp":20.99},{"pos":28.25,"temp":20.88},{"pos":28.46,"temp":21.04},{"pos":28.68,"temp":21.01},{"pos":28.89,"temp":21.04},{"pos":29.11,"temp":20.99},{"pos":29.32,"temp":20.99},{"pos":29.49,"temp":20.72},{"pos":29.59,"temp":21.04},{"pos":29.70,"temp":21.21},{"pos":29.86,"temp":21.10},{"pos":30.08,"temp":21.10},{"pos":30.29,"temp":20.99},{"pos":30.51,"temp":20.93},{"pos":30.72,"temp":20.93},{"pos":30.88,"temp":21.10},{"pos":31.04,"temp":20.93},{"pos":31.15,"temp":20.77},{"pos":31.26,"temp":20.66},{"pos":31.42,"temp":20.72},{"pos":31.58,"temp":20.61},{"pos":31.74,"temp":20.55},{"pos":31.90,"temp":20.55},{"pos":32.06,"temp":20.50},{"pos":32.17,"temp":20.66},{"pos":32.33,"temp":20.83},{"pos":32.55,"temp":20.88},{"pos":32.76,"temp":20.88},{"pos":32.92,"temp":20.88},{"pos":33.03,"temp":21.10},{"pos":33.14,"temp":21.48},{"pos":33.25,"temp":21.10},{"pos":33.35,"temp":21.21},{"pos":33.52,"temp":21.26},{"pos":33.62,"temp":20.99},{"pos":33.78,"temp":20.93},{"pos":33.95,"temp":21.04},{"pos":34.11,"temp":21.04},{"pos":34.27,"temp":21.10},{"pos":34.43,"temp":21.04},{"pos":34.54,"temp":20.83},{"pos":34.70,"temp":20.77},{"pos":34.86,"temp":20.55},{"pos":34.97,"temp":20.44},{"pos":35.13,"temp":20.55},{"pos":35.23,"temp":20.34},{"pos":35.34,"temp":20.55},{"pos":35.50,"temp":20.77},{"pos":35.61,"temp":20.39},{"pos":35.77,"temp":20.34},{"pos":35.93,"temp":20.39},{"pos":36.04,"temp":20.28},{"pos":36.15,"temp":20.77},{"pos":36.31,"temp":20.77},{"pos":36.47,"temp":20.77},{"pos":36.63,"temp":20.77},{"pos":36.79,"temp":20.77},{"pos":36.90,"temp":20.90},{"pos":37.01,"temp":20.55},{"pos":37.08,"temp":20.23},{"pos":37.17,"temp":20.88},{"pos":37.25,"temp":20.23},{"pos":37.33,"temp":20.88},{"pos":37.42,"temp":20.23},{"pos":37.49,"temp":20.83}
]
},
"encoding": {
"x": {"field": "pos", "type": "quantitative", "title": "November 2003",
 "scale": {"domain": [0, 37.5], "nice": false, "zero": false},
 "axis": {"values": [0,1,2,3,4,5,6,7,8,9,10,11,12,13,14,15,16,17,18,19,20,21,22,23,24,25,26,27,28,29,30,31,32,33,34,35,36,37],
  "labelExpr": "['01.11.','01.11.','02.11.','03.11.','04.11.','04.11.','05.11.','06.11.','07.11.','07.11.','08.11.','09.11.','10.11.','10.11.','11.11.','12.11.','13.11.','14.11.','14.11.','15.11.','16.11.','16.11.','17.11.','18.11.','19.11.','19.11.','20.11.','21.11.','22.11.','22.11.','23.11.','24.11.','25.11.','26.11.','27.11.','28.11.','29.11.','30.11.'][round(datum.value)]",
  "labelAngle": -90, "labelAlign": "right", "labelBaseline": "middle", "labelFontSize": 16.5, "labelColor": "#000000", "labelFont": "Liberation Sans",
  "labelPadding": 10, "ticks": false, "tickSize": 0, "domain": false, "grid": false, "labelOverlap": false, "labelFlush": false, "labelBound": false,
  "titleFontSize": 23.5, "titleFontWeight": "bold", "titleColor": "#000000", "titleFont": "Liberation Sans",
  "titleX": 561, "titleY": 84, "titleAlign": "center", "titleBaseline": "alphabetic"}},
"y": {"field": "temp", "type": "quantitative", "title": "° Celsius",
 "scale": {"domain": [17.905, 27], "nice": false, "zero": false},
 "axis": {"values": [18,19,20,21,22,23,24,25,26,27], "grid": true, "gridColor": "#000000", "gridWidth": 1, "gridOpacity": 1,
  "domainColor": "#000000", "domainWidth": 1, "tickColor": "#000000", "tickSize": 5, "tickWidth": 1,
  "labelFontSize": 16.5, "labelColor": "#000000", "labelFont": "Liberation Sans", "labelPadding": 10,
  "titleAngle": 0, "titleAlign": "left", "titleBaseline": "alphabetic", "titleX": 0, "titleY": -14,
  "titleFontSize": 23.5, "titleFontWeight": "bold", "titleColor": "#000000", "titleFont": "Liberation Sans"}}
},
"layer": [
{"data": {"name": "wohn"}, "mark": {"type": "line", "strokeWidth": 3, "clip": true, "strokeJoin": "round"},
 "encoding": {"color": {"datum": "Wohnzimmer", "type": "nominal",
  "scale": {"domain": ["Küche", "Wohnzimmer", "Schlafzimmer"], "range": ["#FF0000", "#FFFF00", "#000080"]},
  "legend": {"orient": "none", "legendX": 264, "legendY": -45, "title": null, "labelFontSize": 23.6, "labelFont": "Liberation Sans", "labelColor": "#000000",
   "symbolType": "stroke", "symbolSize": 961, "symbolStrokeWidth": 4, "symbolOffset": 12, "labelOffset": 1, "rowPadding": 14.5, "padding": 13,
   "fillColor": "#FFFFFF", "strokeColor": "#000000"}}}},
{"data": {"name": "wohn"}, "mark": {"type": "point", "shape": "square", "filled": true, "size": 20, "color": "#FFCC00", "opacity": 1, "clip": true}},
{"data": {"name": "kueche"}, "mark": {"type": "line", "strokeWidth": 3, "clip": true, "strokeJoin": "round"},
 "encoding": {"color": {"datum": "Küche", "type": "nominal",
  "scale": {"domain": ["Küche", "Wohnzimmer", "Schlafzimmer"], "range": ["#FF0000", "#FFFF00", "#000080"]}}}},
{"data": {"name": "schlaf"}, "mark": {"type": "line", "strokeWidth": 3, "clip": true, "strokeJoin": "round"},
 "encoding": {"color": {"datum": "Schlafzimmer", "type": "nominal",
  "scale": {"domain": ["Küche", "Wohnzimmer", "Schlafzimmer"], "range": ["#FF0000", "#FFFF00", "#000080"]}}}}
]
}
